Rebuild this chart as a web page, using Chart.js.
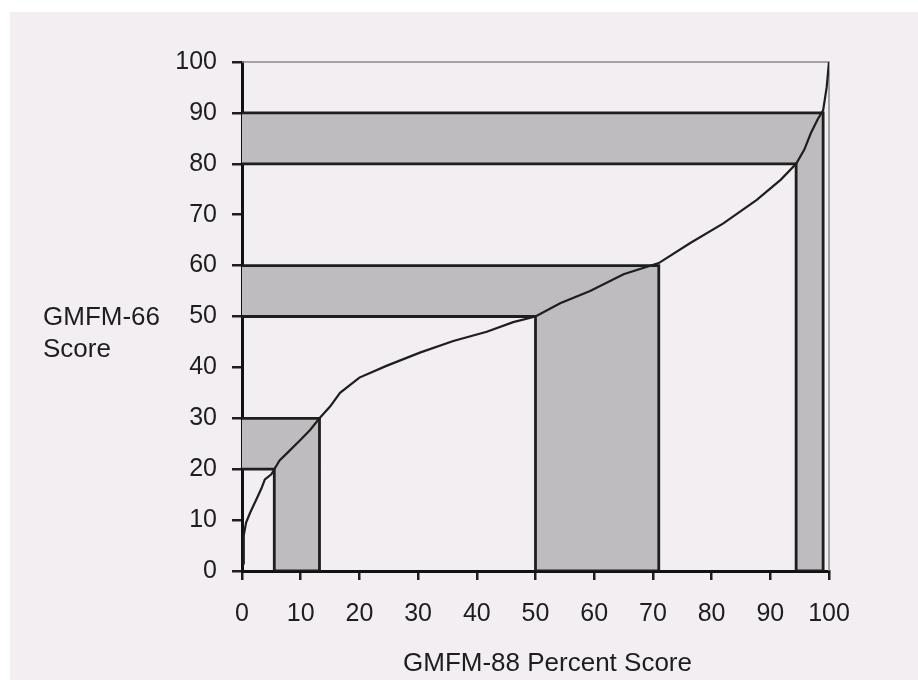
<!DOCTYPE html>
<html>
<head>
<meta charset="utf-8">
<script src="https://cdn.jsdelivr.net/npm/chart.js@4.4.1/dist/chart.umd.min.js"></script>
<style>
  html, body { margin: 0; padding: 0; background: #ffffff; }
  #page { position: absolute; left: 10px; top: 12px; right: 0; bottom: 0; background: #f2eef1; }
  #wrap { position: absolute; left: 0; top: 0; width: 918px; height: 680px; }
</style>
</head>
<body>
<div id="page"></div>
<div id="wrap"><canvas id="gmfmChart" width="918" height="680"></canvas></div>
<script>
// GMFM-88 percent score (x) against GMFM-66 score (y)
var curvePct   = [0.2, 0.3, 0.7, 1.4, 2.5, 3.3, 3.9, 5.0, 5.5, 6.4, 7.9, 9.9, 11.6, 13.2, 15.0, 16.7, 20.0, 24.6, 30.3, 36.0, 41.7, 46.2, 50.0, 54.2, 59.3, 65.0, 71.0, 76.3, 82.0, 87.7, 91.8, 94.4, 95.8, 96.9, 98.1, 99.0, 99.6, 100];
var curveScore = [1.5, 7.0, 9.5, 11.5, 14.2, 16.2, 18.0, 19.0, 20.0, 21.7, 23.4, 25.7, 27.7, 30.0, 32.3, 35.0, 38.0, 40.3, 42.9, 45.2, 47.0, 48.9, 50.0, 52.6, 55.0, 58.3, 60.5, 64.4, 68.3, 72.9, 76.9, 80.0, 82.8, 86.0, 88.8, 90.5, 95.0, 100];

// shaded bands: GMFM-66 score range and the matching GMFM-88 percent range
var bandScoreLow  = [20, 50, 80];
var bandScoreHigh = [30, 60, 90];
var bandPctLow    = [5.5, 50, 94.4];
var bandPctHigh   = [13.2, 71, 99];

var xTitle = 'GMFM-88 Percent Score';
var yTitle = ['GMFM-66', 'Score'];

var FONT = "'Liberation Sans', Arial, sans-serif";
var INK = '#1e1e1e';

var datasets = [{
  label: 'GMFM-66',
  data: curvePct.map(function (p, i) { return { x: p, y: curveScore[i] }; }),
  borderColor: INK,
  borderWidth: 2.2,
  pointRadius: 0,
  fill: false,
  tension: 0
}];

for (var i = 0; i < bandScoreLow.length; i++) {
  datasets.push({
    label: 'band ' + (i + 1),
    data: [
      { x: 0, y: bandScoreHigh[i] },
      { x: bandPctHigh[i], y: bandScoreHigh[i] },
      { x: bandPctHigh[i], y: 0 },
      { x: bandPctLow[i], y: 0 },
      { x: bandPctLow[i], y: bandScoreLow[i] },
      { x: 0, y: bandScoreLow[i] }
    ],
    borderColor: INK,
    borderWidth: 2.8,
    backgroundColor: '#bebcbe',
    pointRadius: 0,
    fill: 'shape',
    tension: 0
  });
}

// thin grey frame on the top and right of the plot
var frame = {
  id: 'frame',
  beforeDatasetsDraw: function (chart) {
    var a = chart.chartArea, ctx = chart.ctx;
    ctx.save();
    ctx.strokeStyle = '#8a8a8a';
    ctx.lineWidth = 1.5;
    ctx.beginPath();
    ctx.moveTo(a.left, a.top);
    ctx.lineTo(a.right, a.top);
    ctx.lineTo(a.right, a.bottom);
    ctx.stroke();
    ctx.restore();
  }
};

// axis titles, both written horizontally
var titles = {
  id: 'titles',
  afterDraw: function (chart) {
    var a = chart.chartArea, ctx = chart.ctx;
    ctx.save();
    ctx.fillStyle = INK;
    ctx.font = '26px ' + FONT;
    ctx.textBaseline = 'alphabetic';
    ctx.textAlign = 'left';
    ctx.fillText(yTitle[0], a.left - 199, a.top + 263);
    ctx.fillText(yTitle[1], a.left - 199, a.top + 295);
    ctx.textAlign = 'center';
    ctx.fillText(xTitle, (a.left + a.right) / 2 + 12, chart.height - 9);
    ctx.restore();
  }
};

new Chart(document.getElementById('gmfmChart'), {
  type: 'line',
  data: { datasets: datasets },
  plugins: [frame, titles],
  options: {
    responsive: false,
    animation: false,
    events: [],
    layout: { padding: { top: 62, right: 89, bottom: 0, left: 0 } },
    plugins: { legend: { display: false }, tooltip: { enabled: false } },
    scales: {
      x: {
        type: 'linear',
        min: 0,
        max: 100,
        afterFit: function (scale) { scale.height = 109; },
        ticks: { stepSize: 10, color: INK, padding: 19, font: { family: FONT, size: 25 } },
        grid: { drawOnChartArea: false, drawTicks: true, tickLength: 9, color: INK, lineWidth: 2.5 },
        border: { display: true, color: '#111', width: 3 }
      },
      y: {
        type: 'linear',
        min: 0,
        max: 100,
        afterFit: function (scale) { scale.width = 242; },
        ticks: { stepSize: 10, color: INK, padding: 15, font: { family: FONT, size: 25 } },
        grid: { drawOnChartArea: false, drawTicks: true, tickLength: 10, color: INK, lineWidth: 2.5 },
        border: { display: true, color: '#111', width: 3 }
      }
    }
  }
});
</script>
</body>
</html>
